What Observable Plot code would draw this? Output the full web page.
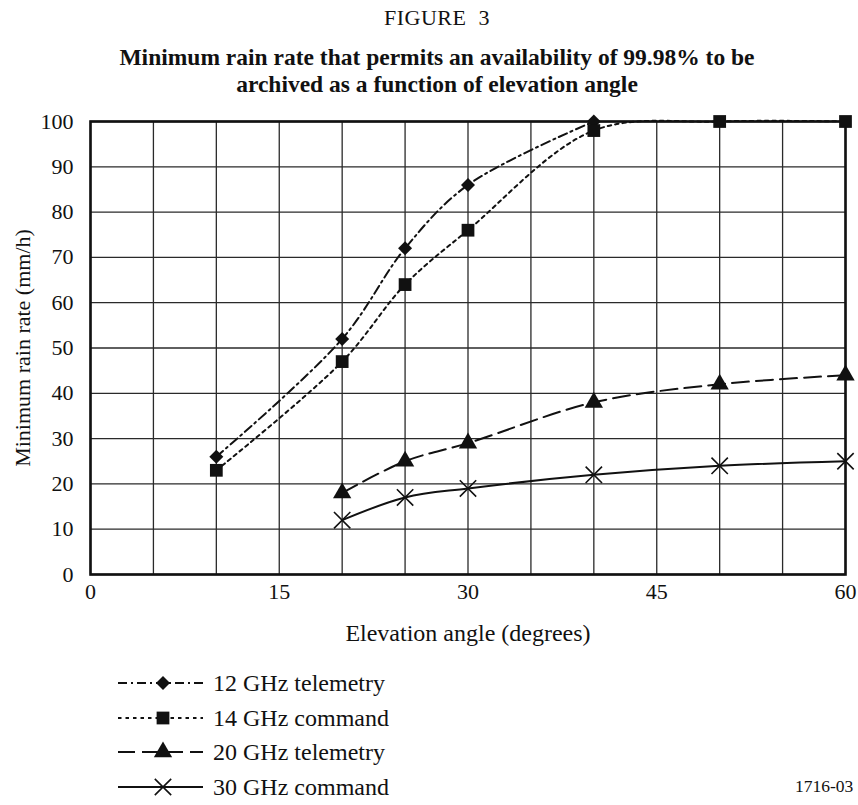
<!DOCTYPE html>
<html>
<head>
<meta charset="utf-8">
<script src="https://cdn.jsdelivr.net/npm/d3@7"></script>
<script src="https://cdn.jsdelivr.net/npm/@observablehq/plot@0.6"></script>
<style>
  body { margin: 0; background: #fff; }
  #wrap, #wrap div, #wrap svg, #wrap svg text { font-family: 'Liberation Serif', serif !important; }
  #wrap { position: relative; width: 858px; height: 805px; }
  .t { position: absolute; left: 0; width: 874px; text-align: center; color: #111; }
  #fig { top: 5px; font-size: 22px; letter-spacing: 0.5px; }
  #title { top: 44px; font-size: 23.5px; font-weight: bold; line-height: 27px; }
  #chart { position: absolute; left: 0; top: 100px; }
  #legend { position: absolute; left: 0; top: 665px; }
  #code { position: absolute; left: 795px; top: 776px; font-size: 17.5px; color: #111; }
</style>
</head>
<body>
<div id="wrap">
  <div class="t" id="fig">FIGURE&nbsp;&nbsp;3</div>
  <div class="t" id="title">Minimum rain rate that permits an availability of 99.98% to be<br>archived as a function of elevation angle</div>
  <div id="chart"></div>
  <svg id="legend" width="858" height="140"></svg>
  <div id="code">1716-03</div>
</div>
<script>
// ---- data ----
const seriesNames = ["12 GHz telemetry", "14 GHz command", "20 GHz telemetry", "30 GHz command"];
const angle12 = [10, 20, 25, 30, 40];
const rain12  = [26, 52, 72, 86, 100];
const angle14 = [10, 20, 25, 30, 40, 50, 60];
const rain14  = [23, 47, 64, 76, 98, 100, 100];
const angle20 = [20, 25, 30, 40, 50, 60];
const rain20  = [18, 25, 29, 38, 42, 44];
const angle30 = [20, 25, 30, 40, 50, 60];
const rain30  = [12, 17, 19, 22, 24, 25];
const xTicks = [0, 15, 30, 45, 60];
const yTicks = [0, 10, 20, 30, 40, 50, 60, 70, 80, 90, 100];

const toRows = (xs, ys) => xs.map((x, i) => ({x, y: ys[i]}));
const d12 = toRows(angle12, rain12);
const d14 = toRows(angle14, rain14);
const d20 = toRows(angle20, rain20);
const d30 = toRows(angle30, rain30);

const styles = [
  {data: d12, dash: "9,4,2,4", symbol: "diamond2", r: 6.3},
  {data: d14, dash: "3.5,4", symbol: "square", r: 7.2},
  {data: d20, dash: "17,7", symbol: "triangle", r: 6.8},
  {data: d30, dash: null, symbol: "times", r: 7.5}
];

const FONT = "'Liberation Serif', serif";
const ink = "#111";

const marks = [
  Plot.ruleX(d3.range(0, 61, 5), {stroke: "#2a2a2a", strokeWidth: 1.3}),
  Plot.ruleY(yTicks, {stroke: "#2a2a2a", strokeWidth: 1.3}),
  Plot.frame({stroke: ink, strokeWidth: 2.6}),
  Plot.axisX(xTicks, {tickSize: 0, tickPadding: 9, fontSize: 22, label: null, fill: ink}),
  Plot.axisY(yTicks, {tickSize: 0, tickPadding: 17, fontSize: 22, fill: ink,
    label: "Minimum rain rate (mm/h)", labelAnchor: "center", labelArrow: "none", labelOffset: 76}),
  Plot.text(["Elevation angle (degrees)"], {frameAnchor: "bottom", dy: 66, fontSize: 24, fill: ink})
];
for (const s of styles) {
  marks.push(Plot.line(s.data, {x: "x", y: "y", stroke: ink, strokeWidth: 2, strokeDasharray: s.dash, curve: "catmull-rom"}));
  if (s.symbol === "times") {
    marks.push(Plot.dot(s.data, {x: "x", y: "y", symbol: "times", r: s.r, stroke: ink, strokeWidth: 1.6}));
  } else {
    marks.push(Plot.dot(s.data, {x: "x", y: "y", symbol: s.symbol, r: s.r, fill: ink, stroke: "none"}));
  }
}

const chart = Plot.plot({
  width: 858,
  height: 560,
  marginTop: 21,
  marginBottom: 86,
  marginLeft: 90,
  marginRight: 13,
  style: {fontFamily: FONT, fontSize: "22px", color: ink, background: "#fff"},
  x: {domain: [0, 60]},
  y: {domain: [0, 100]},
  marks
});
document.getElementById("chart").appendChild(chart);

// ---- legend ----
const leg = d3.select("#legend");
const rowY = [18, 53, 87, 122];
const symMap = {diamond2: d3.symbolDiamond2, square: d3.symbolSquare, triangle: d3.symbolTriangle, times: d3.symbolTimes};
styles.forEach((s, i) => {
  const y = rowY[i];
  leg.append("line").attr("x1", 118).attr("x2", 203).attr("y1", y).attr("y2", y)
    .attr("stroke", ink).attr("stroke-width", 2).attr("stroke-dasharray", s.dash);
  const p = d3.symbol(symMap[s.symbol], Math.PI * s.r * s.r)();
  const g = leg.append("path").attr("d", p).attr("transform", `translate(163,${y})`);
  if (s.symbol === "times") g.attr("fill", "none").attr("stroke", ink).attr("stroke-width", 1.6);
  else g.attr("fill", ink);
  leg.append("text").attr("x", 213).attr("y", y).attr("dy", "0.35em")
    .attr("font-size", 24).attr("fill", ink).text(seriesNames[i]);
});
</script>
</body>
</html>
